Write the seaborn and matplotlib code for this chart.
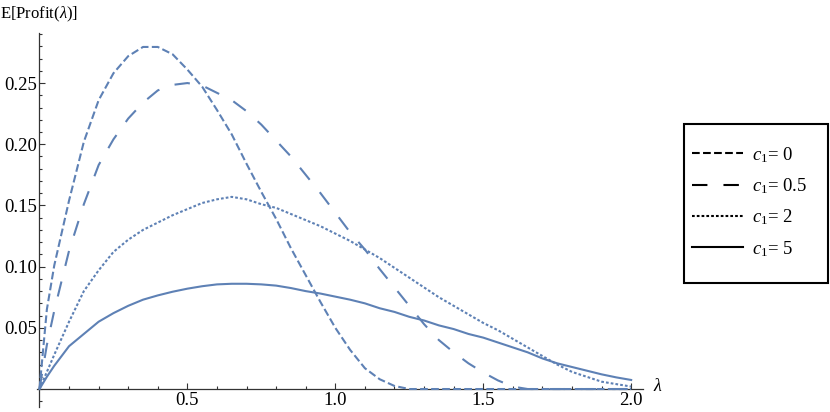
import numpy as np
import pandas as pd
import matplotlib
matplotlib.use("Agg")
import matplotlib.pyplot as plt
from matplotlib.lines import Line2D
from matplotlib.patches import Rectangle
from matplotlib.ticker import FixedLocator, MultipleLocator, FixedFormatter
import seaborn as sns

# =========================
# DATA
# =========================
lam = [0.0, 0.025, 0.05, 0.1, 0.15, 0.2, 0.25, 0.3, 0.35, 0.4, 0.45, 0.5,
       0.55, 0.6, 0.65, 0.7, 0.75, 0.8, 0.85, 0.9, 0.95, 1.0,
       1.05, 1.1, 1.15, 1.2, 1.25, 1.3, 1.35, 1.4, 1.45, 1.5,
       1.55, 1.6, 1.65, 1.7, 1.75, 1.8, 1.85, 1.9, 1.95, 2.0]

profit_c0 = [0.0, 0.065, 0.101, 0.154, 0.202, 0.236, 0.258, 0.272, 0.2795, 0.2795, 0.2735, 0.261,
             0.247, 0.228, 0.208, 0.184, 0.161, 0.139, 0.115, 0.093, 0.071, 0.050,
             0.032, 0.017, 0.008, 0.0025, 0.0, 0.0, 0.0, 0.0, 0.0, 0.0,
             0.0, 0.0, 0.0, 0.0, 0.0, 0.0, 0.0, 0.0, 0.0, 0.0]

profit_c05 = [0.0, 0.036, 0.064, 0.113, 0.151, 0.183, 0.204, 0.221, 0.234, 0.244, 0.2485, 0.250,
              0.248, 0.242, 0.236, 0.227, 0.216, 0.203, 0.190, 0.175, 0.160, 0.144,
              0.128, 0.114, 0.098, 0.083, 0.068, 0.053, 0.040, 0.030, 0.021, 0.0135,
              0.007, 0.002, 0.0, 0.0, 0.0, 0.0, 0.0, 0.0, 0.0, 0.0]

profit_c2 = [0.0, 0.014, 0.028, 0.055, 0.080, 0.097, 0.112, 0.122, 0.130, 0.136, 0.142, 0.147,
             0.152, 0.155, 0.157, 0.155, 0.151, 0.148, 0.143, 0.138, 0.133, 0.127,
             0.121, 0.114, 0.107, 0.099, 0.091, 0.083, 0.075, 0.068, 0.061, 0.054,
             0.048, 0.041, 0.034, 0.027, 0.020, 0.014, 0.010, 0.006, 0.004, 0.002]

profit_c5 = [0.0, 0.010, 0.019, 0.035, 0.045, 0.055, 0.062, 0.068, 0.073, 0.0765, 0.0795, 0.082,
             0.084, 0.0855, 0.086, 0.086, 0.0855, 0.0845, 0.0825, 0.080, 0.078, 0.0755,
             0.073, 0.070, 0.066, 0.063, 0.059, 0.056, 0.052, 0.049, 0.045, 0.042,
             0.038, 0.034, 0.030, 0.025, 0.021, 0.018, 0.015, 0.012, 0.0095, 0.0074]

series_names = ["0", "0.5", "2", "5"]
series_values = [profit_c0, profit_c05, profit_c2, profit_c5]

x_ticks = [0.5, 1.0, 1.5, 2.0]
x_tick_labels = ["0.5", "1.0", "1.5", "2.0"]
y_ticks = [0.05, 0.10, 0.15, 0.20, 0.25]
y_tick_labels = ["0.05", "0.10", "0.15", "0.20", "0.25"]

# =========================
# STYLE
# =========================
plt.rcParams["font.family"] = ["Liberation Serif", "DejaVu Serif"]
plt.rcParams["mathtext.fontset"] = "custom"
plt.rcParams["mathtext.rm"] = "Liberation Serif"
plt.rcParams["mathtext.it"] = "Liberation Serif:italic"

blue = "#5E81B5"
axis_gray = "#333333"
lw = 1.5
fs = 13.5
dash_map = {"0": (3.7, 1.6), "0.5": (7.4, 7.7), "2": (1.3, 1.0), "5": ""}

df = pd.concat(
    [pd.DataFrame({"lam": lam, "profit": v, "c1": n}) for n, v in zip(series_names, series_values)],
    ignore_index=True,
)

# =========================
# PLOT
# =========================
fig = plt.figure(figsize=(8.3, 4.12), dpi=100)
ax = fig.add_axes([0.0447, 0.0112, 0.730, 0.909])

sns.lineplot(data=df, x="lam", y="profit", style="c1", style_order=series_names,
             dashes=dash_map, color=blue, linewidth=lw, legend=False,
             errorbar=None, ax=ax, zorder=3)

ax.set_xlim(-0.008, 2.04)
ax.set_ylim(-0.015, 0.291)

for s in ["top", "right"]:
    ax.spines[s].set_visible(False)
ax.spines["left"].set_position(("data", 0))
ax.spines["bottom"].set_position(("data", 0))
for s in ["left", "bottom"]:
    ax.spines[s].set_color(axis_gray)
    ax.spines[s].set_linewidth(0.9)

ax.xaxis.set_major_locator(FixedLocator(x_ticks))
ax.xaxis.set_major_formatter(FixedFormatter(x_tick_labels))
ax.xaxis.set_minor_locator(MultipleLocator(0.1))
ax.yaxis.set_major_locator(FixedLocator(y_ticks))
ax.yaxis.set_major_formatter(FixedFormatter(y_tick_labels))
ax.yaxis.set_minor_locator(MultipleLocator(0.01))

ax.tick_params(which="both", direction="in", color=axis_gray, width=0.8, labelsize=fs)
ax.tick_params(which="major", length=4.5)
ax.tick_params(which="minor", length=2.5)
ax.tick_params(axis="x", which="major", pad=2.5)
ax.tick_params(axis="y", which="major", pad=1.8)
ax.set_xlabel("")
ax.set_ylabel("")

fig.text(0.0, 0.966, r"E[Profit($\lambda$)]", ha="left", va="center", fontsize=12)
fig.text(0.793, 0.061, r"$\lambda$", ha="center", va="center", fontsize=13)

# =========================
# LEGEND
# =========================
handles = []
for n in series_names:
    d = dash_map[n]
    if d == "":
        handles.append(Line2D([], [], color="black", lw=lw, linestyle="-"))
    else:
        handles.append(Line2D([], [], color="black", lw=lw, dashes=d))
labels = [r"$c_1$= " + n for n in series_names]

fig.patches.append(Rectangle((0.824, 0.313), 0.1735, 0.386, transform=fig.transFigure,
                             fill=False, edgecolor="black", linewidth=1.5, figure=fig))

fig.legend(handles, labels, loc="center left", bbox_to_anchor=(0.8337, 0.510),
           frameon=False, handlelength=2.72, handletextpad=0.5, labelspacing=0.62,
           borderpad=0, borderaxespad=0, fontsize=fs)

fig.savefig("out.png", dpi=100)
